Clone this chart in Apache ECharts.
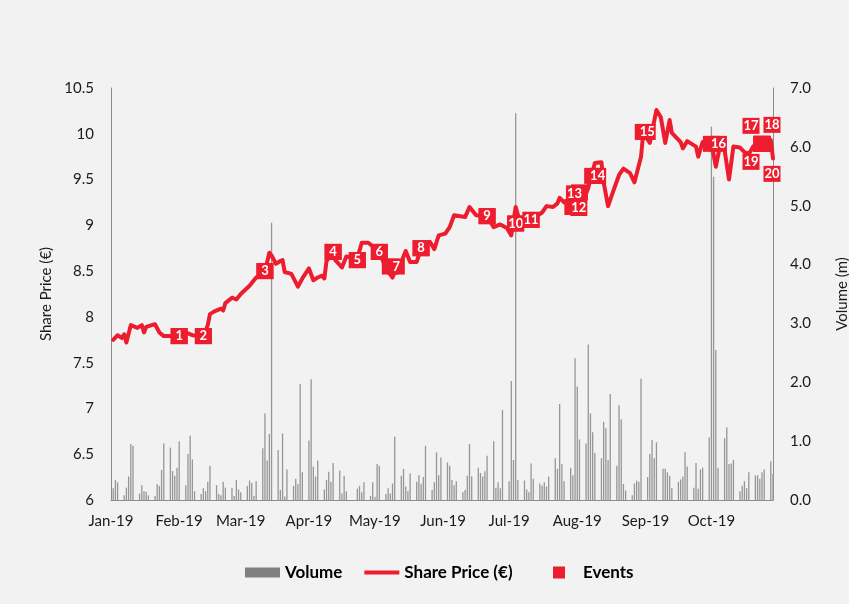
<!DOCTYPE html>
<html>
<head>
<meta charset="utf-8">
<script src="https://cdn.jsdelivr.net/npm/echarts@6/dist/echarts.min.js"></script>
<style>
  html, body { margin: 0; padding: 0; background: #f2f2f2; }
  #chart { width: 849px; height: 604px; }
</style>
</head>
<body>
<div id="chart"></div>
<script>
// Daily traded volume (millions), one entry per trading day, month by month
const volJan = [0.20, 0.34, 0.30, 0.08, 0.21, 0.40, 0.95, 0.92, 0.11, 0.25, 0.15, 0.14, 0.08, 0.07, 0.27, 0.24, 0.51, 0.96, 0.89, 0.49, 0.41, 0.55];
const volFeb = [1.00, 0.25, 0.78, 1.09, 0.69, 0.15, 0.10, 0.20, 0.15, 0.31, 0.58, 0.25, 0.10, 0.08, 0.31, 0.21, 0.21, 0.07, 0.34, 0.18];
const volMar = [0.13, 0.24, 0.33, 0.29, 0.07, 0.32, 0.88, 1.47, 0.67, 1.12, 4.71, 0.85, 0.17, 1.13, 0.06, 0.52, 0.24, 0.36, 0.27, 1.97, 0.47];
const volApr = [1.01, 2.05, 0.57, 0.40, 0.67, 0.18, 0.34, 0.48, 0.31, 0.63, 0.50, 0.11, 0.41, 0.15, 0.19, 0.24, 0.13, 0.30, 0.07, 0.30];
const volMay = [0.05, 0.61, 0.58, 0.10, 0.20, 0.11, 0.28, 1.08, 0.41, 0.53, 0.23, 0.15, 0.45, 0.31, 0.42, 0.27, 0.39, 0.92, 0.17, 0.30, 0.81, 0.42, 0.72];
const volJun = [0.64, 0.58, 0.34, 0.25, 0.32, 0.13, 0.17, 0.41, 0.95, 0.40, 0.55, 0.46, 0.40, 0.49, 0.75, 1.00, 0.21, 0.30, 0.20, 1.53];
const volJul = [0.32, 2.02, 0.68, 6.57, 0.34, 0.33, 0.18, 0.13, 0.62, 0.36, 0.28, 0.24, 0.30, 0.23, 0.40, 0.71, 0.53, 1.63, 0.61, 0.32, 0.55, 0.42, 2.41];
const volAug = [1.93, 1.03, 0.96, 2.64, 1.47, 1.15, 0.80, 0.71, 1.33, 1.22, 0.68, 1.80, 0.58, 1.61, 1.37, 0.27, 0.16, 0.08, 0.28, 0.33, 0.31, 2.06];
const volSep = [0.39, 0.78, 1.02, 0.71, 0.98, 0.53, 0.53, 0.47, 0.41, 0.20, 0.31, 0.35, 0.40, 0.81, 0.57, 0.21, 0.63, 0.19, 0.52, 0.55, 1.06];
const volOct = [6.34, 5.49, 2.55, 0.55, 1.05, 1.23, 0.61, 0.62, 0.68, 0.15, 0.24, 0.32, 0.20, 0.47, 0.42, 0.42, 0.36, 0.47, 0.52, 0.66, 0.44];

// Weekdays with no trading
const marketHolidays = ['2019-01-01', '2019-04-19', '2019-04-22'];

// Share price (€) at dates along the period
const priceDates = [
  '2019-01-02','2019-01-04','2019-01-06','2019-01-07','2019-01-08','2019-01-10','2019-01-13','2019-01-15','2019-01-16','2019-01-17',
  '2019-01-21','2019-01-23','2019-01-25','2019-01-29','2019-02-01','2019-02-05','2019-02-07','2019-02-12','2019-02-14','2019-02-15',
  '2019-02-17','2019-02-20','2019-02-21','2019-02-22','2019-02-25','2019-02-27','2019-03-01','2019-03-05','2019-03-08','2019-03-12',
  '2019-03-14','2019-03-15','2019-03-17','2019-03-19','2019-03-20','2019-03-21','2019-03-24','2019-03-27','2019-03-29','2019-04-01',
  '2019-04-03','2019-04-05','2019-04-07','2019-04-08','2019-04-09','2019-04-12','2019-04-13','2019-04-16','2019-04-18','2019-04-23',
  '2019-04-25','2019-04-28','2019-05-03','2019-05-06','2019-05-09','2019-05-11','2019-05-13','2019-05-15','2019-05-17','2019-05-20',
  '2019-05-22','2019-05-26','2019-05-28','2019-05-30','2019-06-02','2019-06-04','2019-06-06','2019-06-11','2019-06-13','2019-06-16',
  '2019-06-21','2019-06-24','2019-06-27','2019-06-30','2019-07-02','2019-07-04','2019-07-06','2019-07-11','2019-07-16','2019-07-18',
  '2019-07-21','2019-07-23','2019-07-24','2019-07-26','2019-07-30','2019-08-04','2019-08-06','2019-08-09','2019-08-12','2019-08-13',
  '2019-08-15','2019-08-17','2019-08-20','2019-08-22','2019-08-25','2019-08-27','2019-08-30','2019-08-31','2019-09-03','2019-09-06',
  '2019-09-08','2019-09-10','2019-09-12','2019-09-13','2019-09-17','2019-09-18','2019-09-20','2019-09-24','2019-09-25','2019-09-27',
  '2019-09-30','2019-10-01','2019-10-03','2019-10-05','2019-10-07','2019-10-09','2019-10-11','2019-10-14','2019-10-16','2019-10-18',
  '2019-10-20','2019-10-22','2019-10-24','2019-10-27','2019-10-28','2019-10-29'
];
const priceValues = [
  7.75, 7.80, 7.77, 7.81, 7.72, 7.91, 7.88, 7.91, 7.83, 7.89,
  7.92, 7.83, 7.79, 7.79, 7.79, 7.82, 7.80, 7.79, 7.91, 8.03,
  8.06, 8.09, 8.07, 8.15, 8.21, 8.19, 8.25, 8.34, 8.43, 8.50,
  8.70, 8.67, 8.58, 8.61, 8.62, 8.49, 8.47, 8.33, 8.42, 8.53,
  8.40, 8.43, 8.45, 8.42, 8.61, 8.71, 8.62, 8.54, 8.66, 8.64,
  8.81, 8.81, 8.71, 8.53, 8.43, 8.55, 8.60, 8.72, 8.60, 8.60,
  8.75, 8.82, 8.74, 8.89, 8.91, 8.98, 9.11, 9.09, 9.20, 9.11,
  9.10, 8.98, 9.01, 8.97, 8.89, 9.20, 9.03, 9.06, 9.14, 9.21,
  9.20, 9.24, 9.30, 9.25, 9.27, 9.28, 9.41, 9.68, 9.69, 9.47,
  9.21, 9.35, 9.55, 9.62, 9.57, 9.47, 9.75, 10.01, 9.90, 10.26,
  10.18, 9.90, 10.15, 10.01, 9.91, 9.84, 9.92, 9.86, 9.75, 9.91,
  9.92, 9.90, 9.64, 9.88, 9.82, 9.50, 9.86, 9.85, 9.80, 9.78,
  9.86, 9.90, 9.89, 9.92, 9.93, 9.73
];

// Numbered events
const eventLabels = ['1','2','3','4','5','6','7','8','9','10','11','12','13','14','15','16','17','18','19','20'];
const eventDates = [
  '2019-02-01','2019-02-12','2019-03-12','2019-04-12','2019-04-23','2019-05-03','2019-05-08','2019-05-22','2019-06-21','2019-07-04',
  '2019-07-11','2019-07-30','2019-08-02','2019-08-08','2019-08-31','2019-10-01','2019-10-24','2019-10-24','2019-10-24','2019-10-24'
];
const eventPrices = [7.79, 7.79, 8.50, 8.71, 8.62, 8.71, 8.55, 8.75, 9.10, 9.02, 9.06, 9.20, 9.36, 9.54, 10.02, 9.89, 9.89, 9.89, 9.89, 9.89];

const monthNames = ['Jan','Feb','Mar','Apr','May','Jun','Jul','Aug','Sep','Oct','Nov','Dec'];

// Tag placement (px) so that tags of events on the same day do not overlap
const tagShift = [
  [0,0],[0,0],[0,0],[0,0],[0,0],[0,0],[6,0],[0,0],[0,0],[0,0],
  [0,0],[6,1],[-5,1],[5,0],[4,0],[7,0],[-11,-18],[10,-19],[-11,18],[10,30]
];

const RED = '#ED1C2E';
const FONT = 'Lato';
const TXT = '#1a1a1a';

// Calendar days spanning the axis
const isoDay = t => new Date(t).toISOString().slice(0, 10);
const days = [];
for (let t = Date.UTC(2019, 0, 1); t <= Date.UTC(2019, 9, 29); t += 864e5) days.push(isoDay(t));

// Spread the monthly volume lists over the trading days
const monthlyVolumes = [volJan, volFeb, volMar, volApr, volMay, volJun, volJul, volAug, volSep, volOct];
const used = monthlyVolumes.map(() => 0);
const volumeData = [];
days.forEach(d => {
  const dow = new Date(d + 'T00:00:00Z').getUTCDay();
  if (dow === 0 || dow === 6 || marketHolidays.includes(d)) return;
  const m = +d.slice(5, 7) - 1;
  const v = monthlyVolumes[m][used[m]++];
  if (v !== undefined) volumeData.push([d, v]);
});

const priceData = priceDates.map((d, i) => [d, priceValues[i]]);
const eventData = eventDates.map((d, i) => ({
  value: [d, eventPrices[i]],
  label: { offset: tagShift[i] }
}));

const legendText = { fontFamily: FONT, fontSize: 17, fontWeight: 'bold', color: '#000' };

const chart = echarts.init(document.getElementById('chart'));
chart.setOption({
  backgroundColor: '#f2f2f2',
  animation: false,
  textStyle: { fontFamily: FONT },
  grid: { left: 111, right: 76, top: 88, bottom: 104, outerBoundsMode: 'none' },
  legend: [
    {
      left: 240,
      top: 559,
      itemWidth: 35,
      itemHeight: 12,
      itemGap: 22,
      textStyle: legendText,
      data: [
        { name: 'Volume', icon: 'path://M0,0H35V10H0Z', itemStyle: { color: '#808080', opacity: 1 } },
        { name: 'Share Price (€)', icon: 'path://M0,0H35V4H0Z', itemStyle: { color: RED, opacity: 1 } }
      ]
    },
    {
      left: 548,
      top: 559,
      itemWidth: 12,
      itemHeight: 12,
      textStyle: Object.assign({ padding: [0, 0, 0, 13] }, legendText),
      data: [
        { name: 'Events', icon: 'rect', itemStyle: { color: RED, opacity: 1 } }
      ]
    }
  ],
  xAxis: {
    type: 'category',
    data: days,
    boundaryGap: false,
    axisLine: { lineStyle: { color: '#8c8c8c', width: 1 } },
    axisTick: { show: false },
    axisLabel: {
      interval: (i, v) => v.slice(8) === '01',
      formatter: v => monthNames[+v.slice(5, 7) - 1] + '-' + v.slice(2, 4),
      margin: 14,
      fontSize: 15,
      fontFamily: FONT,
      color: TXT
    },
    splitLine: { show: false }
  },
  yAxis: [
    {
      type: 'value',
      min: 6, max: 10.5, interval: 0.5,
      name: 'Share Price (€)',
      nameLocation: 'middle',
      nameRotate: 90,
      nameGap: 56,
      nameTextStyle: { fontFamily: FONT, fontSize: 15, color: TXT },
      axisLine: { show: true, lineStyle: { color: '#8c8c8c', width: 1 } },
      axisTick: { show: false },
      splitLine: { show: false },
      axisLabel: { margin: 17, fontSize: 15, fontFamily: FONT, color: TXT }
    },
    {
      type: 'value',
      min: 0, max: 7, interval: 1,
      name: 'Volume (m)',
      nameLocation: 'middle',
      nameRotate: 90,
      nameGap: 62,
      nameTextStyle: { fontFamily: FONT, fontSize: 15, color: TXT },
      axisLine: { show: true, lineStyle: { color: '#8c8c8c', width: 1 } },
      axisTick: { show: false },
      splitLine: { show: false },
      axisLabel: { margin: 17, fontSize: 15, fontFamily: FONT, color: TXT, formatter: v => v.toFixed(1) }
    }
  ],
  series: [
    {
      name: 'Volume',
      type: 'bar',
      yAxisIndex: 1,
      data: volumeData,
      barWidth: 1.3,
      itemStyle: { color: '#969696' },
      z: 1
    },
    {
      name: 'Share Price (€)',
      type: 'line',
      yAxisIndex: 0,
      data: priceData,
      showSymbol: false,
      symbol: 'none',
      lineStyle: { color: RED, width: 4, cap: 'round', join: 'round' },
      itemStyle: { color: RED },
      z: 2
    },
    {
      name: 'Events',
      type: 'scatter',
      yAxisIndex: 0,
      data: eventData,
      symbol: 'rect',
      symbolSize: [17, 16],
      itemStyle: { color: RED, opacity: 1 },
      label: {
        show: true,
        position: 'inside',
        formatter: p => eventLabels[p.dataIndex],
        color: '#fff',
        fontFamily: FONT,
        fontWeight: 'bold',
        fontSize: 13,
        backgroundColor: RED,
        width: 17,
        height: 16,
        lineHeight: 16,
        align: 'center',
        verticalAlign: 'middle'
      },
      emphasis: { disabled: true },
      z: 3
    }
  ]
});
</script>
</body>
</html>
